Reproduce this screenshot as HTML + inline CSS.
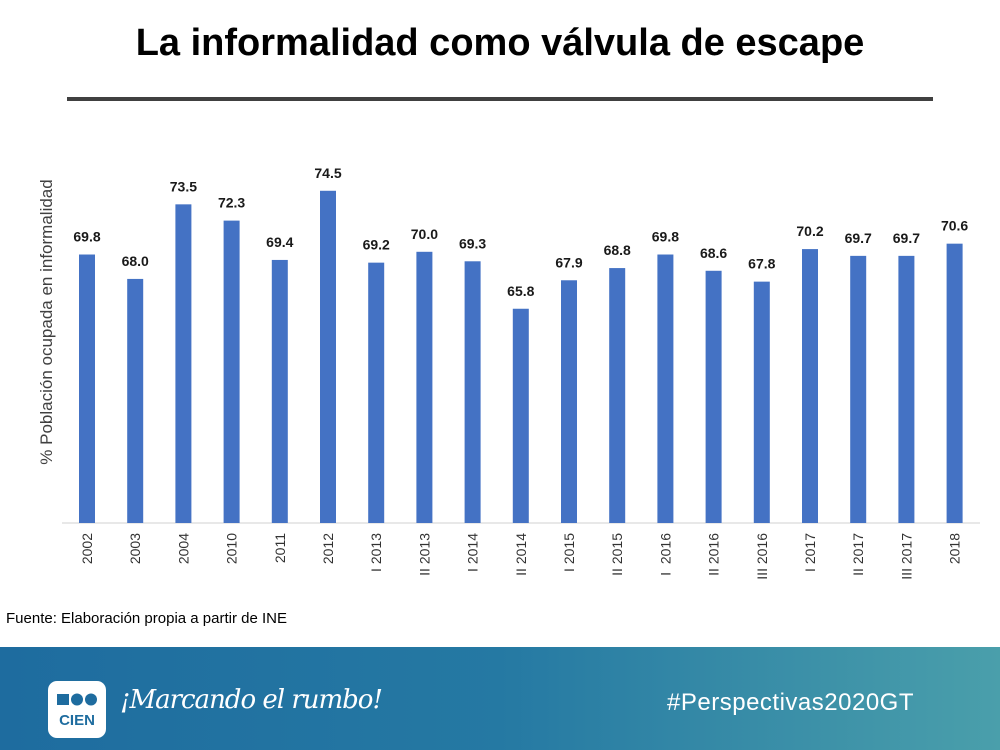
<!DOCTYPE html>
<html><head><meta charset="utf-8"><style>
body{margin:0;width:1000px;height:750px;overflow:hidden;background:#fff;font-family:"Liberation Sans",sans-serif;position:relative}
#title{position:absolute;top:22px;left:0;width:1000px;text-align:center;font-size:38px;font-weight:bold;color:#000}
#rule{position:absolute;left:67px;top:97px;width:866px;height:4px;background:#404040}
#panel{position:absolute;left:20px;top:128px;width:965px;height:472px;background:#fff}
#src{position:absolute;left:6px;top:610px;font-size:15px;color:#000}
#footer{position:absolute;left:0;top:647px;width:1000px;height:103px;background:linear-gradient(90deg,#1e6c9f 0%,#2579a3 50%,#4a9fab 100%)}
#logo{position:absolute;left:48px;top:34px;width:58px;height:57px;background:#fff;border-radius:9px}
#slogan{position:absolute;left:120px;top:38px;color:#fff;font-size:26px;font-style:italic;font-family:"DejaVu Serif",serif;letter-spacing:-1px}
#hash{position:absolute;right:86px;top:42px;color:#fff;font-size:24px;letter-spacing:0.5px}
</style></head><body>
<div id="title">La informalidad como válvula de escape</div>
<div id="rule"></div>
<div id="panel"></div>
<svg id="chart" width="1000" height="750" style="position:absolute;left:0;top:0">
<text transform="translate(52,322) rotate(-90)" text-anchor="middle" font-size="17" fill="#404040" font-family="Liberation Sans, sans-serif">% Población ocupada en informalidad</text>
<line x1="62" y1="523" x2="980" y2="523" stroke="#d0d0d0" stroke-width="1"/>
<g id="bars"></g>
</svg>
<div id="src">Fuente: Elaboración propia a partir de INE</div>
<div id="footer">
<div id="logo">
<svg width="58" height="57"><rect x="9" y="13" width="12" height="11" fill="#1e6c9f"/><circle cx="29" cy="18.5" r="6" fill="#1e6c9f"/><circle cx="43" cy="18.5" r="6" fill="#1e6c9f"/><text x="29" y="44" text-anchor="middle" font-size="15" font-weight="bold" fill="#1e6c9f" font-family="Liberation Sans, sans-serif">CIEN</text></svg>
</div>
<div id="slogan">¡Marcando el rumbo!</div>
<div id="hash">#Perspectivas2020GT</div>
</div>
<script>
const categories=["2002","2003","2004","2010","2011","2012","I 2013","II 2013","I 2014","II 2014","I 2015","II 2015","I  2016","II 2016","III 2016","I 2017","II 2017","III 2017","2018"];
const values=[69.8,68.0,73.5,72.3,69.4,74.5,69.2,70.0,69.3,65.8,67.9,68.8,69.8,68.6,67.8,70.2,69.7,69.7,70.6];
const yMin=50, baseY=523, pxPerUnit=13.56, x0=87, step=48.2, bw=16;
const yS=v=>baseY-(v-yMin)*pxPerUnit;
const xS=i=>x0+i*step;
const g=document.getElementById('bars');
const NS="http://www.w3.org/2000/svg";
values.forEach((v,i)=>{
  const r=document.createElementNS(NS,'rect');
  
  
  r.setAttribute('x',xS(i)-bw/2);r.setAttribute('y',yS(v));
  r.setAttribute('width',bw);r.setAttribute('height',baseY-yS(v));
  r.setAttribute('fill','#4472c4');g.appendChild(r);
  const t=document.createElementNS(NS,'text');
  
  
  t.setAttribute('x',xS(i));t.setAttribute('y',yS(v)-13);
  t.setAttribute('text-anchor','middle');t.setAttribute('font-size','14');t.setAttribute('font-weight','bold');
  t.setAttribute('fill','#1a1a1a');t.setAttribute('font-family','Liberation Sans, sans-serif');
  t.textContent=v.toFixed(1);g.appendChild(t);
  const c=document.createElementNS(NS,'text');
  
  
  c.setAttribute('transform','translate('+(xS(i)+5)+',533) rotate(-90)');
  c.setAttribute('text-anchor','end');c.setAttribute('font-size','14');
  c.setAttribute('fill','#333');c.setAttribute('font-family','Liberation Sans, sans-serif');
  c.setAttribute('xml:space','preserve');c.style.whiteSpace='pre';
  c.textContent=categories[i];g.appendChild(c);
});
</script>
</body></html>
